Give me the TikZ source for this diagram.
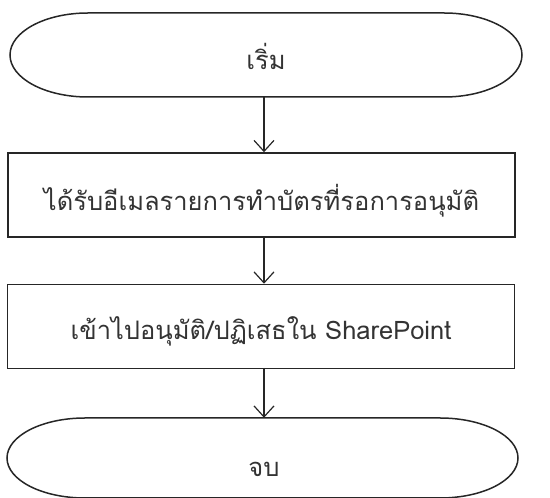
\documentclass[tikz,border=0pt]{standalone}
\usepackage{fontspec}
\newfontfamily\thaifont[Script=Thai]{Loma}
\usetikzlibrary{arrows.meta}
\begin{document}
\begin{tikzpicture}[x=1pt,y=1pt,
  every node/.style={font=\thaifont\fontsize{25.5}{30}\selectfont, text=black!80},
  line/.style={draw=black!85, line width=1.5pt},
  flow/.style={line, -{Straight Barb[length=11pt,width=20pt,line width=1.2pt]}},
  procbox/.style={line, rectangle, minimum width=507pt, minimum height=84pt, inner sep=0pt}]
\useasboundingbox (0,0) rectangle (550,498);
% start terminator
\draw[line] (88,485) -- (444,485) arc[start angle=90,end angle=-90,x radius=78,y radius=42] -- (88,401) arc[start angle=270,end angle=90,x radius=78,y radius=42] -- cycle;
\node[inner sep=0pt, minimum width=512pt, minimum height=84pt] (start) at (266,443) {};
\node at (266,442) {เริ่ม};
% process 1
\node[procbox] (p1) at (261.5,303) {};
\node at (261.5,297) {ได้รับอีเมลรายการทำบัตรที่รอการอนุมัติ};
% process 2
\node[procbox] (p2) at (261,171.5) {};
\node at (261,167) {เข้าไปอนุมัติ/ปฏิเสธใน SharePoint};
% end terminator
\draw[line] (85,80) -- (440,80) arc[start angle=90,end angle=-90,x radius=78,y radius=40] -- (85,0) arc[start angle=270,end angle=90,x radius=78,y radius=40] -- cycle;
\node[inner sep=0pt, minimum width=511pt, minimum height=80pt] (stop) at (262.5,40) {};
\node at (264,29) {จบ};
% connectors
\coordinate (a1) at (264,401);
\draw[flow] (a1) -- (a1 |- p1.north);
\coordinate (a2) at (264,261);
\draw[flow] (a2) -- (a2 |- p2.north);
\coordinate (a3) at (264,130);
\draw[flow] (a3) -- (a3 |- stop.north);
\end{tikzpicture}
\end{document}
